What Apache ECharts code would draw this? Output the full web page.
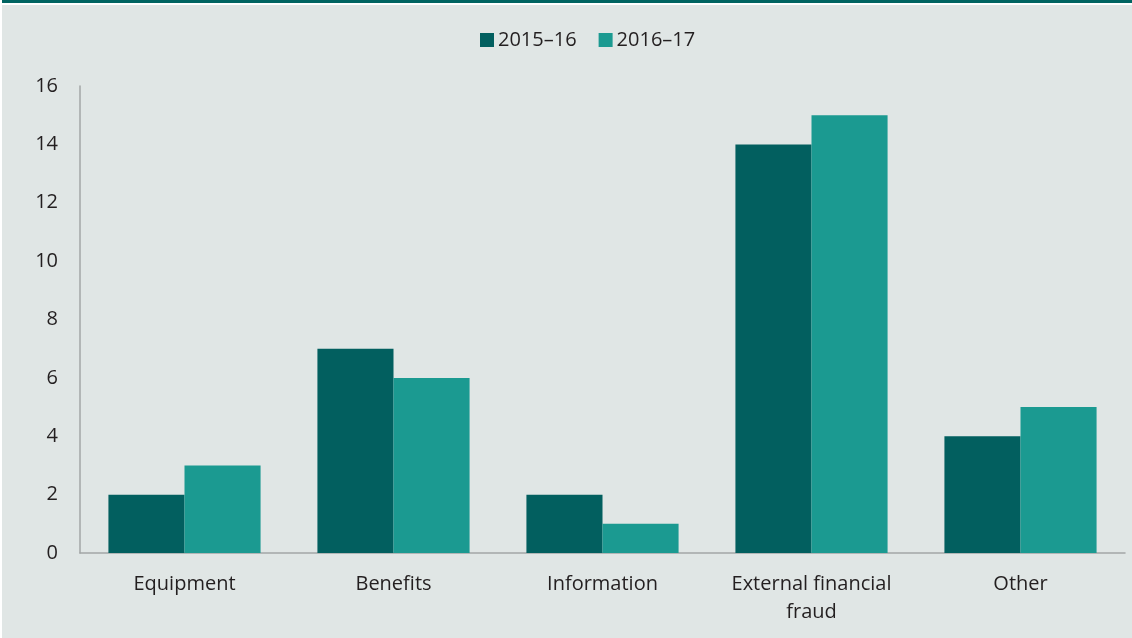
<!DOCTYPE html>
<html>
<head>
<meta charset="utf-8">
<script src="https://cdn.jsdelivr.net/npm/echarts@6/dist/echarts.min.js"></script>
<style>
  html, body { margin: 0; padding: 0; background: #ffffff; }
  #chart { width: 1132px; height: 638px; }
</style>
</head>
<body>
<div id="chart"></div>
<script>
// Fraud incidents by category
const categories = ['Equipment', 'Benefits', 'Information', 'External financial\nfraud', 'Other'];
const seriesNames = ['2015–16', '2016–17'];
const values2015_16 = [2, 7, 2, 14, 4];
const values2016_17 = [3, 6, 1, 15, 5];
const yTicks = { min: 0, max: 16, interval: 2 };

const darkTeal = '#025f5f';
const lightTeal = '#1b9a91';
const textColor = '#231f20';
const fontFamily = '"Open Sans", "Noto Sans", sans-serif';

const chart = echarts.init(document.getElementById('chart'), null, { renderer: 'canvas' });

chart.setOption({
  backgroundColor: '#e0e6e5',
  animation: false,
  graphic: [
    { type: 'rect', left: 0, top: 0, shape: { width: 1132, height: 3 }, style: { fill: '#006461' }, z: 10 },
    { type: 'rect', left: 0, top: 3, shape: { width: 1132, height: 2 }, style: { fill: '#ffffff' }, z: 10 },
    { type: 'rect', left: 0, top: 0, shape: { width: 2, height: 638 }, style: { fill: '#ffffff' }, z: 10 }
  ],
  legend: {
    top: 25,
    left: 475,
    itemWidth: 14,
    itemHeight: 14,
    itemGap: 22,
    icon: 'rect',
    textStyle: { fontFamily, fontSize: 20, color: textColor, padding: [0, 0, 0, -1] },
    data: seriesNames
  },
  grid: { left: 80, right: 7, top: 86, bottom: 85, containLabel: false },
  xAxis: {
    type: 'category',
    data: categories,
    axisLine: { lineStyle: { color: '#a3a6a6', width: 1.5 } },
    axisTick: { show: false },
    axisLabel: { fontFamily, fontSize: 20, color: textColor, margin: 17, lineHeight: 28 }
  },
  yAxis: {
    type: 'value',
    min: yTicks.min,
    max: yTicks.max,
    interval: yTicks.interval,
    axisLine: { show: true, lineStyle: { color: '#a3a6a6', width: 1.5 } },
    axisTick: { show: false },
    splitLine: { show: false },
    axisLabel: { fontFamily, fontSize: 20, color: textColor, margin: 22 }
  },
  series: [
    {
      name: seriesNames[0],
      type: 'bar',
      data: values2015_16,
      barWidth: '36.4%',
      barGap: '0%',
      itemStyle: { color: darkTeal }
    },
    {
      name: seriesNames[1],
      type: 'bar',
      data: values2016_17,
      barWidth: '36.4%',
      barGap: '0%',
      itemStyle: { color: lightTeal }
    }
  ]
});
</script>
</body>
</html>
